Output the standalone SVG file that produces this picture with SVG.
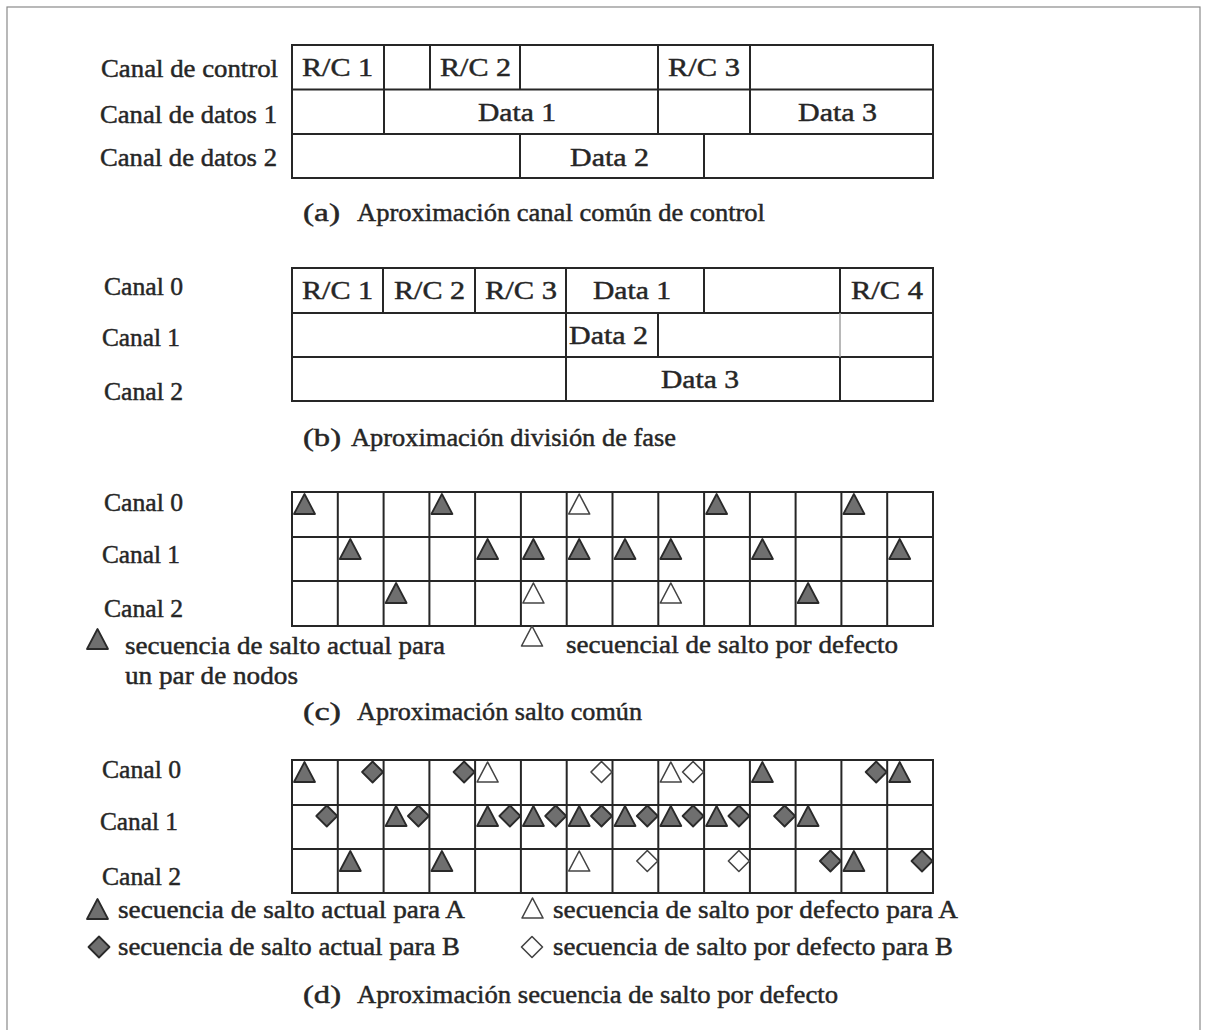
<svg xmlns="http://www.w3.org/2000/svg" xmlns:xlink="http://www.w3.org/1999/xlink" width="1207" height="1030" viewBox="0 0 1207 1030">
<style>
text{font-family:"Liberation Serif","Times New Roman",serif;font-size:25px;fill:#262626;stroke:#262626;stroke-width:0.45}
.g{fill:none;stroke:#262626;stroke-width:2}
.lt{fill:none;stroke:#a0a0a0;stroke-width:1.5}
.f{fill:#6f6f6f;stroke:#2a2a2a;stroke-width:1.8;stroke-linejoin:round}
.w{fill:#ffffff;stroke:#444;stroke-width:1.6;stroke-linejoin:round}
</style>
<defs>
<path id="tri" d="M0,20 L10.5,0 L21,20 Z"/>
<path id="dia" d="M0,-10.5 L10.5,0 L0,10.5 L-10.5,0 Z"/>
</defs>
<rect x="0" y="0" width="1207" height="1030" fill="#ffffff"/>
<rect x="7" y="7" width="1193" height="1040" fill="none" stroke="#8a8a8a" stroke-width="1.2"/>

<g id="section-a">
<rect class="g" x="292" y="45" width="641" height="133"/>
<path class="g" d="M292,89.5H933M292,134H933M384,45V134M430,45V89.5M520,45V89.5M658,45V134M750,45V134M520,134V178M704,134V178"/>
<text x="101" y="77" textLength="177" lengthAdjust="spacingAndGlyphs">Canal de control</text>
<text x="100" y="123" textLength="177" lengthAdjust="spacingAndGlyphs">Canal de datos 1</text>
<text x="100" y="166" textLength="177" lengthAdjust="spacingAndGlyphs">Canal de datos 2</text>
<text x="302" y="76" textLength="71" lengthAdjust="spacingAndGlyphs">R/C 1</text>
<text x="440" y="76" textLength="71" lengthAdjust="spacingAndGlyphs">R/C 2</text>
<text x="668" y="76" textLength="72" lengthAdjust="spacingAndGlyphs">R/C 3</text>
<text x="478" y="121" textLength="78" lengthAdjust="spacingAndGlyphs">Data 1</text>
<text x="798" y="121" textLength="79" lengthAdjust="spacingAndGlyphs">Data 3</text>
<text x="570" y="166" textLength="79" lengthAdjust="spacingAndGlyphs">Data 2</text>
<text x="303" y="221" textLength="37" lengthAdjust="spacingAndGlyphs">(a)</text>
<text x="357" y="221" textLength="408" lengthAdjust="spacingAndGlyphs">Aproximación canal común de control</text>
</g>

<g id="section-b">
<rect class="g" x="292" y="268" width="641" height="133"/>
<path class="g" d="M292,313H933M292,357H933M383,268V313M475,268V313M566,268V401M704,268V313M840,268V313M658,313V357M840,357V401"/>
<path class="lt" d="M840,313V357"/>
<text x="104" y="295" textLength="79" lengthAdjust="spacingAndGlyphs">Canal 0</text>
<text x="102" y="346" textLength="78" lengthAdjust="spacingAndGlyphs">Canal 1</text>
<text x="104" y="400" textLength="79" lengthAdjust="spacingAndGlyphs">Canal 2</text>
<text x="302" y="299" textLength="71" lengthAdjust="spacingAndGlyphs">R/C 1</text>
<text x="394" y="299" textLength="71" lengthAdjust="spacingAndGlyphs">R/C 2</text>
<text x="485" y="299" textLength="72" lengthAdjust="spacingAndGlyphs">R/C 3</text>
<text x="593" y="299" textLength="78" lengthAdjust="spacingAndGlyphs">Data 1</text>
<text x="851" y="299" textLength="72" lengthAdjust="spacingAndGlyphs">R/C 4</text>
<text x="569" y="344" textLength="79" lengthAdjust="spacingAndGlyphs">Data 2</text>
<text x="661" y="388" textLength="78" lengthAdjust="spacingAndGlyphs">Data 3</text>
<text x="303" y="446" textLength="38" lengthAdjust="spacingAndGlyphs">(b)</text>
<text x="351" y="446" textLength="325" lengthAdjust="spacingAndGlyphs">Aproximación división de fase</text>
</g>

<g id="section-c">
<rect class="g" x="292" y="492" width="641" height="134"/>
<path class="g" d="M292,537H933M292,581H933M337.8,492V626M383.6,492V626M429.4,492V626M475.1,492V626M520.9,492V626M566.7,492V626M612.5,492V626M658.3,492V626M704.1,492V626M749.9,492V626M795.6,492V626M841.4,492V626M887.2,492V626"/>
<use xlink:href="#tri" class="f" x="294" y="494"/>
<use xlink:href="#tri" class="f" x="431.4" y="494"/>
<use xlink:href="#tri" class="w" x="568.7" y="494"/>
<use xlink:href="#tri" class="f" x="706.1" y="494"/>
<use xlink:href="#tri" class="f" x="843.4" y="494"/>
<use xlink:href="#tri" class="f" x="339.8" y="539"/>
<use xlink:href="#tri" class="f" x="477.1" y="539"/>
<use xlink:href="#tri" class="f" x="522.9" y="539"/>
<use xlink:href="#tri" class="f" x="568.7" y="539"/>
<use xlink:href="#tri" class="f" x="614.5" y="539"/>
<use xlink:href="#tri" class="f" x="660.3" y="539"/>
<use xlink:href="#tri" class="f" x="751.9" y="539"/>
<use xlink:href="#tri" class="f" x="889.2" y="539"/>
<use xlink:href="#tri" class="f" x="385.6" y="583"/>
<use xlink:href="#tri" class="w" x="522.9" y="583"/>
<use xlink:href="#tri" class="w" x="660.3" y="583"/>
<use xlink:href="#tri" class="f" x="797.6" y="583"/>
<text x="104" y="511" textLength="79" lengthAdjust="spacingAndGlyphs">Canal 0</text>
<text x="102" y="563" textLength="78" lengthAdjust="spacingAndGlyphs">Canal 1</text>
<text x="104" y="617" textLength="79" lengthAdjust="spacingAndGlyphs">Canal 2</text>
<use xlink:href="#tri" class="f" x="87" y="629"/>
<text x="125" y="654" textLength="320" lengthAdjust="spacingAndGlyphs">secuencia de salto actual para</text>
<text x="125" y="684" textLength="173" lengthAdjust="spacingAndGlyphs">un par de nodos</text>
<use xlink:href="#tri" class="w" x="521.5" y="626"/>
<text x="566" y="653" textLength="332" lengthAdjust="spacingAndGlyphs">secuencial de salto por defecto</text>
<text x="303" y="720" textLength="38" lengthAdjust="spacingAndGlyphs">(c)</text>
<text x="357" y="720" textLength="285" lengthAdjust="spacingAndGlyphs">Aproximación salto común</text>
</g>

<g id="section-d">
<rect class="g" x="292" y="760" width="641" height="133"/>
<path class="g" d="M292,805H933M292,849H933M337.8,760V893M383.6,760V893M429.4,760V893M475.1,760V893M520.9,760V893M566.7,760V893M612.5,760V893M658.3,760V893M704.1,760V893M749.9,760V893M795.6,760V893M841.4,760V893M887.2,760V893"/>
<use xlink:href="#tri" class="f" x="294" y="762"/>
<use xlink:href="#dia" class="f" x="372.6" y="772"/>
<use xlink:href="#dia" class="f" x="464.1" y="772"/>
<use xlink:href="#tri" class="w" x="477.1" y="762"/>
<use xlink:href="#dia" class="w" x="601.5" y="772"/>
<use xlink:href="#tri" class="w" x="660.3" y="762"/>
<use xlink:href="#dia" class="w" x="693.1" y="772"/>
<use xlink:href="#tri" class="f" x="751.9" y="762"/>
<use xlink:href="#dia" class="f" x="876.2" y="772"/>
<use xlink:href="#tri" class="f" x="889.2" y="762"/>
<use xlink:href="#dia" class="f" x="326.8" y="816"/>
<use xlink:href="#tri" class="f" x="385.6" y="806"/>
<use xlink:href="#dia" class="f" x="418.4" y="816"/>
<use xlink:href="#tri" class="f" x="477.1" y="806"/>
<use xlink:href="#dia" class="f" x="509.9" y="816"/>
<use xlink:href="#tri" class="f" x="522.9" y="806"/>
<use xlink:href="#dia" class="f" x="555.7" y="816"/>
<use xlink:href="#tri" class="f" x="568.7" y="806"/>
<use xlink:href="#dia" class="f" x="601.5" y="816"/>
<use xlink:href="#tri" class="f" x="614.5" y="806"/>
<use xlink:href="#dia" class="f" x="647.3" y="816"/>
<use xlink:href="#tri" class="f" x="660.3" y="806"/>
<use xlink:href="#dia" class="f" x="693.1" y="816"/>
<use xlink:href="#tri" class="f" x="706.1" y="806"/>
<use xlink:href="#dia" class="f" x="738.9" y="816"/>
<use xlink:href="#dia" class="f" x="784.6" y="816"/>
<use xlink:href="#tri" class="f" x="797.6" y="806"/>
<use xlink:href="#tri" class="f" x="339.8" y="851"/>
<use xlink:href="#tri" class="f" x="431.4" y="851"/>
<use xlink:href="#tri" class="w" x="568.7" y="851"/>
<use xlink:href="#dia" class="w" x="647.3" y="861"/>
<use xlink:href="#dia" class="w" x="738.9" y="861"/>
<use xlink:href="#dia" class="f" x="830.4" y="861"/>
<use xlink:href="#tri" class="f" x="843.4" y="851"/>
<use xlink:href="#dia" class="f" x="922" y="861"/>
<text x="102" y="778" textLength="79" lengthAdjust="spacingAndGlyphs">Canal 0</text>
<text x="100" y="830" textLength="78" lengthAdjust="spacingAndGlyphs">Canal 1</text>
<text x="102" y="885" textLength="79" lengthAdjust="spacingAndGlyphs">Canal 2</text>
<use xlink:href="#tri" class="f" x="87" y="899"/>
<text x="118" y="918" textLength="347" lengthAdjust="spacingAndGlyphs">secuencia de salto actual para A</text>
<use xlink:href="#tri" class="w" x="522" y="898"/>
<text x="553" y="918" textLength="405" lengthAdjust="spacingAndGlyphs">secuencia de salto por defecto para A</text>
<use xlink:href="#dia" class="f" x="99" y="947"/>
<text x="118" y="955" textLength="342" lengthAdjust="spacingAndGlyphs">secuencia de salto actual para B</text>
<use xlink:href="#dia" class="w" x="532" y="947"/>
<text x="553" y="955" textLength="400" lengthAdjust="spacingAndGlyphs">secuencia de salto por defecto para B</text>
<text x="303" y="1003" textLength="38" lengthAdjust="spacingAndGlyphs">(d)</text>
<text x="357" y="1003" textLength="481" lengthAdjust="spacingAndGlyphs">Aproximación secuencia de salto por defecto</text>
</g>

<g id="connectors"></g>
</svg>
